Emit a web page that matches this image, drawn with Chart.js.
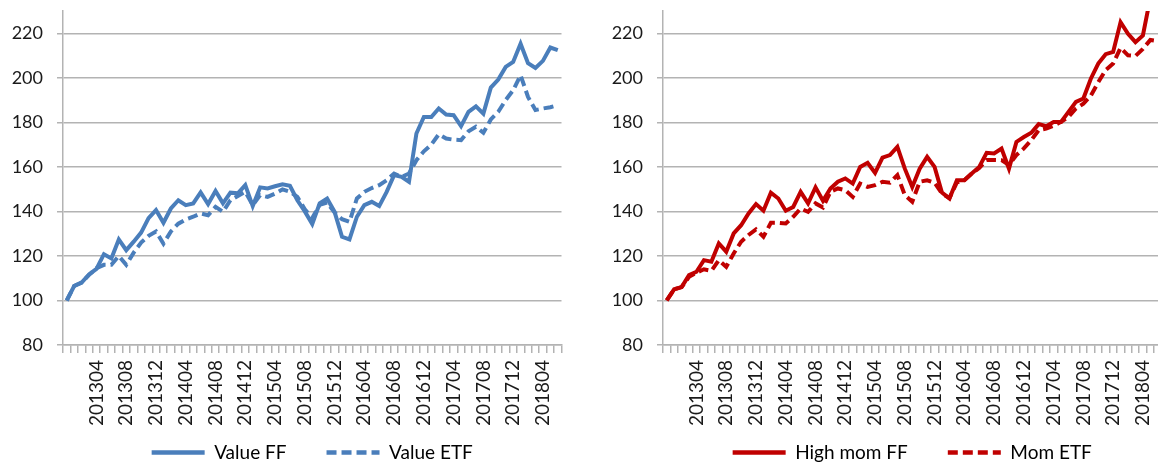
<!DOCTYPE html>
<html>
<head>
<meta charset="utf-8">
<script src="https://cdn.jsdelivr.net/npm/chart.js@4.4.1/dist/chart.umd.min.js"></script>
<style>
  html, body { margin: 0; padding: 0; background: #fff; overflow: hidden; width: 1158px; height: 464px; }
  canvas { position: absolute; top: 0; }
  #leftChart { left: 0; }
  #rightChart { left: 600px; }
</style>
</head>
<body>
<canvas id="leftChart" width="580" height="472"></canvas>
<canvas id="rightChart" width="580" height="472"></canvas>
<script>
// ---- DATA ----
const months = [
  '201212',
  '201301','201302','201303','201304','201305','201306','201307','201308','201309','201310','201311','201312',
  '201401','201402','201403','201404','201405','201406','201407','201408','201409','201410','201411','201412',
  '201501','201502','201503','201504','201505','201506','201507','201508','201509','201510','201511','201512',
  '201601','201602','201603','201604','201605','201606','201607','201608','201609','201610','201611','201612',
  '201701','201702','201703','201704','201705','201706','201707','201708','201709','201710','201711','201712',
  '201801','201802','201803','201804','201805','201806'
];

const valueFF = [
  100, 106.5, 108, 111.7, 114.2, 120.8, 118.9, 127.4, 122.6, 126.4,
  130.5, 137, 140.6, 134.9, 141.3, 145, 142.8, 143.6, 148.5, 143.3,
  149.2, 143.6, 148.4, 148.1, 151.8, 142.4, 150.8, 150.3, 151.3, 152.2,
  151.5, 145, 140, 134.3, 143.6, 145.8, 139.8, 128.6, 127.4, 137.6,
  142.8, 144.3, 142.4, 148.8, 156.3, 155.5, 153.3, 175, 182.4, 182.4,
  186.2, 183.5, 183.2, 178.3, 184.7, 187.2, 183.9, 195.6, 199.2, 204.9,
  207.1, 215.3, 206.6, 204.4, 207.6, 213.6, 212.4
];
const valueETF = [
  100, 106.5, 108, 111.5, 114.5, 116, 116, 120, 116, 121.5,
  126, 129, 131, 125.5, 131, 134.5, 136.4, 137.6, 139.1, 138.3,
  142, 139.8, 145, 146.9, 148.8, 142.8, 147.3, 146.5, 148, 149.9,
  148.8, 146.5, 141, 137, 143, 144, 139.5, 136.5, 135.3, 145.8,
  148.8, 150.5, 151.8, 154, 157, 155.5, 157, 163, 167, 170,
  174.6, 172.7, 172.2, 172, 176, 178, 175.3, 181.3, 184.7, 190,
  194.4, 201.2, 191.4, 185.5, 186.2, 186.8, 187.7
];
const highMomFF = [
  100, 105, 106, 111.4, 112.9, 118.1, 117.4, 125.6, 121.9, 130.1,
  133.8, 139.1, 143.3, 140.3, 148.4, 145.8, 140.3, 142, 148.8, 143.6,
  150.8, 144.8, 150.3, 153.3, 154.8, 152.5, 160, 161.8, 157.3, 164.2,
  165.3, 169, 159.2, 151, 159.2, 164.5, 160, 148.4, 145.8, 154,
  154, 157, 160, 166.3, 166, 168.2, 159.2, 171.2, 173.4, 175.3,
  179.2, 178.3, 180.2, 180.2, 184.7, 189.2, 190.7, 199.6, 206.4, 210.6,
  211.6, 225, 219.8, 216, 219, 236, 240
];
const momETF = [
  100, 105, 106, 110.6, 112.5, 114, 113.3, 118.1, 115.1, 121.1,
  126.4, 129.4, 131.9, 128.6, 134.9, 134.9, 134.6, 137.6, 141.3, 139.8,
  143.6, 141.8, 148.8, 150.3, 149.5, 146.5, 152.5, 151, 151.8, 153.3,
  152.9, 156.3, 147.3, 144.3, 153.3, 154, 152.9, 148, 146, 153,
  154, 157, 159.5, 163.1, 163.1, 163, 160.8, 165.3, 168.3, 172,
  176.5, 177.2, 178.5, 180.2, 182.4, 186.2, 188.4, 192, 198, 203.5,
  206.4, 213.5, 210.1, 209.8, 213, 217, 216.5
];

const yMin = 80;
const yMax = 230;
const yStep = 20;

// ---- STYLE ----
const BLUE = '#4a7ebb';
const RED = '#c00000';
const GRID = '#b3b3b3';

Chart.defaults.font.family = 'Lato';
Chart.defaults.color = '#1a1a1a';

// let the rotated month labels run down past the axis box (no clipping)
const labelRoom = {
  id: 'labelRoom',
  afterLayout: chart => { chart.scales.x.bottom = chart.height; }
};

const makeChart = (id, solidLabel, solidData, dashLabel, dashData, color) => {
  new Chart(document.getElementById(id), {
    type: 'line',
    data: {
      labels: months,
      datasets: [
        {
          label: solidLabel,
          data: solidData,
          borderColor: color,
          backgroundColor: color,
          borderWidth: 4,
          pointRadius: 0,
          tension: 0
        },
        {
          label: dashLabel,
          data: dashData,
          borderColor: color,
          backgroundColor: color,
          borderWidth: 4,
          borderDash: [10, 5],
          pointRadius: 0,
          tension: 0
        }
      ]
    },
    plugins: [labelRoom],
    options: {
      responsive: false,
      animation: false,
      layout: { padding: { top: 11, right: 18.5, left: 0, bottom: 0 } },
      plugins: {
        tooltip: { enabled: false },
        legend: {
          position: 'bottom',
          fullSize: false,
          labels: {
            usePointStyle: true,
            pointStyle: 'line',
            pointStyleWidth: 53,
            boxHeight: 4,
            padding: 40,
            font: { size: 19 },
            generateLabels: chart => chart.data.datasets.map((ds, i) => ({
              text: ds.label,
              datasetIndex: i,
              strokeStyle: ds.borderColor,
              fillStyle: ds.borderColor,
              lineWidth: 4.5,
              lineDash: ds.borderDash || [],
              pointStyle: 'line',
              hidden: false
            }))
          }
        }
      },
      scales: {
        x: {
          offset: true,
          grid: {
            offset: true,
            drawOnChartArea: false,
            drawTicks: true,
            tickLength: 8,
            color: GRID,
            lineWidth: 1.5
          },
          border: { display: true, color: GRID, width: 1.5 },
          ticks: {
            autoSkip: false,
            maxRotation: 90,
            minRotation: 90,
            padding: 7,
            font: { size: 19 },
            callback: function (v, i) {
              return i > 0 && i % 4 === 0 ? this.getLabelForValue(v) : '';
            }
          },
          afterFit: s => {
            s.height = 58;
            s.paddingLeft = 0;
            s.paddingRight = 0;
          }
        },
        y: {
          min: yMin,
          max: yMax,
          ticks: { stepSize: yStep, padding: 14, font: { size: 18 } },
          grid: { color: GRID, lineWidth: 1.5, tickLength: 6, drawTicks: true },
          border: { display: true, color: GRID, width: 1.5 },
          afterBuildTicks: s => {
            s.ticks = s.ticks.filter(t => t.value <= 220);
          },
          afterFit: s => {
            s.width = 63;
            s.paddingTop = 0;
            s.paddingBottom = 0;
          }
        }
      }
    }
  });
};

makeChart('leftChart', 'Value FF', valueFF, 'Value ETF', valueETF, BLUE);
makeChart('rightChart', 'High mom FF', highMomFF, 'Mom ETF', momETF, RED);
</script>
</body>
</html>
